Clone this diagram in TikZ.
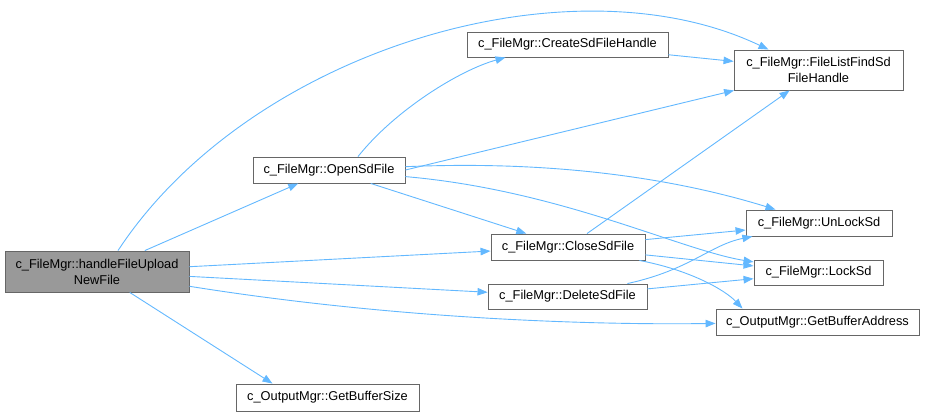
\documentclass[tikz,border=0pt]{standalone}
\usepackage{fontspec}
\setmainfont{Liberation Sans}
\usetikzlibrary{arrows.meta}
\definecolor{edgeblue}{HTML}{63B8FF}
\definecolor{boxborder}{HTML}{666666}
\definecolor{mainfill}{HTML}{999999}
\tikzset{
  fn/.style={draw=boxborder, fill=white, line width=0.9pt, inner sep=0pt, align=center,
    font=\fontsize{12.8}{16}\selectfont, text=black},
  mainfn/.style={fn, fill=mainfill},
  call/.style={draw=edgeblue, line width=0.9pt, -{Triangle[length=10pt,width=7.5pt]}}
}
\begin{document}
\begin{tikzpicture}[x=1pt,y=-1pt]
\useasboundingbox (0,0) rectangle (927,416);
\node[mainfn, minimum width=184pt, minimum height=41pt] (h) at (97,271.5) {c\_FileMgr::handleFileUpload\\NewFile};
\node[fn, minimum width=152pt, minimum height=26pt] (o) at (329,170) {c\_FileMgr::OpenSdFile};
\node[fn, minimum width=201pt, minimum height=25pt] (cr) at (567.5,44.5) {c\_FileMgr::CreateSdFileHandle};
\node[fn, minimum width=169pt, minimum height=40pt] (f) at (818.5,70) {c\_FileMgr::FileListFindSd\\FileHandle};
\node[fn, minimum width=154pt, minimum height=26pt] (cl) at (568,247) {c\_FileMgr::CloseSdFile};
\node[fn, minimum width=146pt, minimum height=26pt] (u) at (819,223) {c\_FileMgr::UnLockSd};
\node[fn, minimum width=129pt, minimum height=25pt] (l) at (818.5,272.5) {c\_FileMgr::LockSd};
\node[fn, minimum width=159pt, minimum height=25pt] (d) at (567.5,296.5) {c\_FileMgr::DeleteSdFile};
\node[fn, minimum width=203pt, minimum height=26pt] (g) at (817.5,322) {c\_OutputMgr::GetBufferAddress};
\node[fn, minimum width=183pt, minimum height=27pt] (s) at (327.5,397.5) {c\_OutputMgr::GetBufferSize};

% from handleFileUploadNewFile
\draw[call] ([xshift=21pt]h.north) .. controls (250,50) and (570,-45) .. ([xshift=-50pt]f.north);
\draw[call] (h) -- (o);
\draw[call] (h) -- (cl);
\draw[call] (h) -- (d);
\draw[call] (h) .. controls (400,320) and (600,325) .. (g);
\draw[call] (h) -- ([xshift=-55pt]s.north);
% from OpenSdFile
\draw[call] ([xshift=29pt]o.north) .. controls (395,110) and (460,70) .. ([xshift=-62pt]cr.south);
\draw[call] (o.east) -- (f);
\draw[call] (o) .. controls (560,160) and (680,180) .. (u);
\draw[call] (o) .. controls (560,190) and (680,250) .. (l);
\draw[call] (o) -- (cl);
% from CreateSdFileHandle
\draw[call] (cr) -- (f);
% from CloseSdFile
\draw[call] (cl) -- (f);
\draw[call] (cl) -- (u);
\draw[call] (cl) -- (l);
\draw[call] (cl) .. controls (690,270) and (725,290) .. ([xshift=-75pt]g.north);
% from DeleteSdFile
\draw[call] (d) .. controls (690,270) and (710,245) .. (u);
\draw[call] (d) -- (l);
\end{tikzpicture}
\end{document}
